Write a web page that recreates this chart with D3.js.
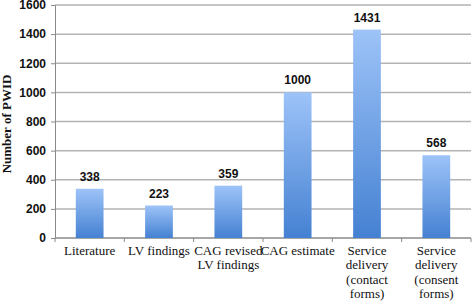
<!DOCTYPE html>
<html lang="en">
<head>
<meta charset="UTF-8">
<title>Number of PWID</title>
<script src="https://cdn.jsdelivr.net/npm/d3@7"></script>
<style>
  body { margin: 0; background: #fff; }
  svg { display: block; }
</style>
</head>
<body>
<svg id="chart" width="472" height="302"></svg>
<script>
  // data
  var categories = ['Literature', 'LV findings', 'CAG revised|LV findings', 'CAG estimate',
    'Service|delivery|(contact|forms)', 'Service|delivery|(consent|forms)']
  var values = [338, 223, 359, 1000, 1431, 568]
  var yTicks = [0, 200, 400, 600, 800, 1000, 1200, 1400, 1600]

  var width = 472, height = 302
  var margin = {top: 5, right: 1, bottom: 64, left: 55}

  var svg = d3.select('#chart')

  var defs = svg.append('defs')
  var grad = defs.append('linearGradient')
    .attr('id', 'barGrad')
    .attr('x1', 0).attr('y1', 0).attr('x2', 0).attr('y2', 1)
  grad.append('stop').attr('offset', '0%').attr('stop-color', '#9dc3f8')
  grad.append('stop').attr('offset', '100%').attr('stop-color', '#4581d2')

  var x = d3.scaleBand()
    .domain(categories)
    .range([margin.left, width - margin.right])
    .paddingInner(0.6)
    .paddingOuter(0.3)

  var y = d3.scaleLinear()
    .domain([0, 1600])
    .range([height - margin.bottom, margin.top])

  // gridlines
  svg.append('g')
    .selectAll('line')
    .data(yTicks.slice(1))
    .join('line')
    .attr('x1', margin.left).attr('x2', width - margin.right)
    .attr('y1', function (d) { return y(d) }).attr('y2', function (d) { return y(d) })
    .attr('stroke', '#b3b3b3')
    .attr('stroke-width', 1.5)

  // y axis
  var yAxis = svg.append('g')
    .attr('transform', 'translate(' + margin.left + ',0)')
    .call(d3.axisLeft(y).tickValues(yTicks).tickFormat(d3.format('d')).tickSize(4).tickPadding(5))
  yAxis.selectAll('path, line').attr('stroke', '#8a8a8a')
  yAxis.selectAll('text')
    .attr('font-family', 'Liberation Sans, Arial, sans-serif')
    .attr('font-weight', 'bold')
    .attr('font-size', 12)
    .attr('fill', '#111')

  // x axis, ticks at band boundaries
  var bounds = d3.range(categories.length + 1).map(function (i) {
    return margin.left + i * (width - margin.right - margin.left) / categories.length
  })
  svg.append('line')
    .attr('x1', margin.left).attr('x2', width - margin.right)
    .attr('y1', y(0)).attr('y2', y(0))
    .attr('stroke', '#8a8a8a').attr('stroke-width', 1.5)
  svg.append('g')
    .selectAll('line')
    .data(bounds)
    .join('line')
    .attr('x1', function (d) { return d }).attr('x2', function (d) { return d })
    .attr('y1', y(0)).attr('y2', y(0) + 4)
    .attr('stroke', '#8a8a8a')

  // bars
  svg.append('g')
    .selectAll('rect')
    .data(values)
    .join('rect')
    .attr('x', function (d, i) { return x(categories[i]) })
    .attr('y', function (d) { return y(d) })
    .attr('width', x.bandwidth())
    .attr('height', function (d) { return y(0) - y(d) })
    .attr('fill', 'url(#barGrad)')

  // value labels
  svg.append('g')
    .selectAll('text')
    .data(values)
    .join('text')
    .attr('x', function (d, i) { return x(categories[i]) + x.bandwidth() / 2 })
    .attr('y', function (d) { return y(d) - 8 })
    .attr('text-anchor', 'middle')
    .attr('font-family', 'Liberation Sans, Arial, sans-serif')
    .attr('font-weight', 'bold')
    .attr('font-size', 12)
    .attr('fill', '#111')
    .text(function (d) { return d })

  // category labels
  var catG = svg.append('g')
    .selectAll('text')
    .data(categories)
    .join('text')
    .attr('text-anchor', 'middle')
    .attr('font-family', 'Liberation Serif, serif')
    .attr('font-size', 13)
    .attr('fill', '#111')
  catG.each(function (d) {
    var t = d3.select(this)
    var cx = x(d) + x.bandwidth() / 2
    d.split('|').forEach(function (line, k) {
      t.append('tspan').attr('x', cx).attr('y', y(0) + 17 + k * 14.3).text(line)
    })
  })

  // y title
  svg.append('text')
    .attr('transform', 'translate(11,124) rotate(-90)')
    .attr('text-anchor', 'middle')
    .attr('font-family', 'Liberation Serif, serif')
    .attr('font-weight', 'bold')
    .attr('font-size', 13)
    .attr('fill', '#111')
    .text('Number of PWID')
</script>
</body>
</html>
